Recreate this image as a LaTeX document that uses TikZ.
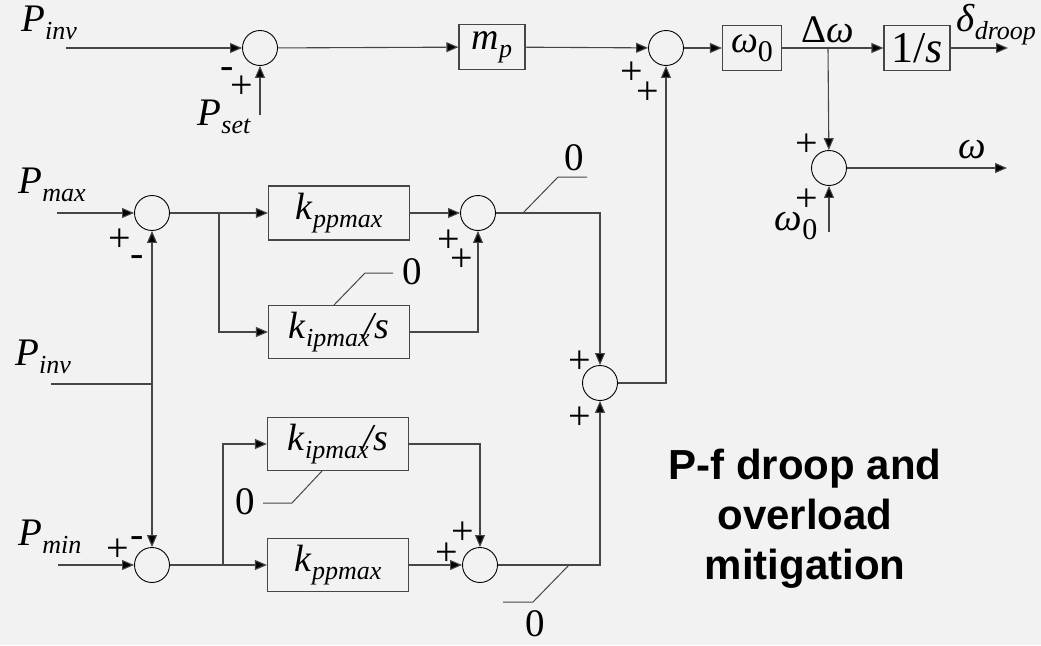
\documentclass[tikz,border=0pt]{standalone}
\usepackage{fontspec}
\setmainfont{Liberation Serif}
\newfontfamily\boldsans{Liberation Sans}
\usetikzlibrary{arrows.meta}
\newcommand{\sbi}[1]{\raisebox{-0.21em}{\fontsize{26}{26}\selectfont\itshape #1}}
\newcommand{\sbr}[1]{\raisebox{-0.24em}{\fontsize{30}{30}\selectfont #1}}
\definecolor{bgc}{RGB}{242,242,242}
\definecolor{lnc}{RGB}{70,70,70}
\tikzset{
  lbl/.style={font=\fontsize{39}{40}\selectfont, inner sep=0pt},
  sgn/.style={font=\fontsize{40}{40}\selectfont, inner sep=0pt},
  sumj/.style={circle, draw=black, line width=0.9pt, minimum size=35pt, inner sep=0pt},
  blk/.style={rectangle, draw=lnc, line width=1.1pt, inner sep=0pt, minimum height=45pt, font=\fontsize{38}{40}\selectfont},
  arr/.style={draw=lnc, line width=1.1pt, -{Triangle[length=12pt,width=10pt,fill=black]}},
  wire/.style={draw=lnc, line width=1.1pt},
  satl/.style={draw=lnc, line width=1pt}
}
\begin{document}
\begin{tikzpicture}[x=1pt,y=-1pt]
\fill[bgc] (0,0) rectangle (1041,645);
\useasboundingbox (0,0) rectangle (1041,645);

% junctions and blocks
\node[sumj] (s1) at (260,48) {};
\node[blk, minimum width=66pt] (mp) at (492,47) {\textit{m}\sbi{p}};
\node[sumj] (s2) at (666,48) {};
\node[blk, minimum width=59pt] (w0) at (752,48) {\textit{ω}\sbr{0}};
\node[blk, minimum width=66pt, font=\fontsize{44}{44}\selectfont] (ig) at (917,48) {1/\textit{s}};
\node[sumj] (s4) at (829,168) {};
\node[sumj] (s5) at (152,213) {};
\node[blk, minimum width=141pt, minimum height=54pt] (kpp1) at (339,213) {\textit{k}\sbi{ppmax}};
\node[blk, minimum width=141pt, minimum height=53pt] (kip1) at (339,332) {\textit{k}\sbi{ipmax}\kern-0.15em\textit{/s}};
\node[sumj] (s6) at (478,213) {};
\node[sumj] (s3) at (600,383) {};
\node[sumj] (s7) at (152,565) {};
\node[blk, minimum width=141pt, minimum height=53pt] (kip2) at (338,444) {\textit{k}\sbi{ipmax}\kern-0.15em\textit{/s}};
\node[blk, minimum width=141pt, minimum height=53pt] (kpp2) at (338,565) {\textit{k}\sbi{ppmax}};
\node[sumj] (s8) at (480,565) {};

% free ends
\coordinate (pinA) at (66,48);
\coordinate (psetA) at (260,115);
\coordinate (br1) at (828,48);
\coordinate (dout) at (1008,48);
\coordinate (wout) at (1007,168);
\coordinate (w0in) at (829,232);
\coordinate (pmaxA) at (57,213);
\coordinate (b5) at (219,213);
\coordinate (pinvB) at (51,384);
\coordinate (jv) at (152,384);
\coordinate (pminA) at (58,565);
\coordinate (b7) at (223,565);

% connectors
\draw[arr] (pinA) -- (s1);
\draw[arr] (psetA) -- (s1);
\draw[arr] (s1) -- (mp);
\draw[arr] (mp) -- (s2);
\draw[arr] (s2) -- (w0);
\draw[arr] (w0) -- (ig);
\draw[arr] (br1) -- (s4);
\draw[arr] (ig) -- (dout);
\draw[arr] (s4) -- (wout);
\draw[arr] (w0in) -- (s4);
\draw[arr] (s3) -| (s2);
\draw[arr] (pmaxA) -- (s5);
\draw[arr] (s5) -- (kpp1);
\draw[arr] (b5) |- (kip1);
\draw[arr] (kpp1) -- (s6);
\draw[arr] (kip1) -| (s6);
\draw[arr] (s6) -| (s3);
\draw[wire] (pinvB) -- (jv);
\draw[arr] (jv) -- (s5);
\draw[arr] (jv) -- (s7);
\draw[arr] (pminA) -- (s7);
\draw[arr] (s7) -- (kpp2);
\draw[arr] (b7) |- (kip2);
\draw[arr] (kip2) -| (s8);
\draw[arr] (kpp2) -- (s8);
\draw[arr] (s8) -| (s3);

% saturation limit marks
\draw[satl] (523,213) -- (558,177) -- (587,177);
\draw[satl] (334,305) -- (365,273) -- (393,273);
\draw[satl] (322,471) -- (292,503) -- (263,503);
\draw[satl] (569,565) -- (533,602) -- (503,602);
\node[lbl] (z1) at (574,158) {0};
\node[lbl] (z2) at (412,272) {0};
\node[lbl] (z3) at (245,502) {0};
\node[lbl] (z4) at (535,624) {0};

% signal labels
\node[lbl] (lpinv) at (49,23) {\textit{P}\sbi{inv}};
\node[lbl] (lpset) at (224,117) {\textit{P}\sbi{set}};
\node[lbl] (ldw) at (828,30) {Δ\textit{ω}};
\node[lbl] (ldel) at (996,25) {\textit{δ}\sbi{droop}};
\node[lbl] (lw) at (972,150) {\textit{ω}};
\node[lbl] (lw0) at (796,226) {\textit{ω}\sbr{0}};
\node[lbl] (lpmax) at (52,185) {\textit{P}\sbi{max}};
\node[lbl] (lpinv2) at (43,357) {\textit{P}\sbi{inv}};
\node[lbl] (lpmin) at (50,537) {\textit{P}\sbi{min}};

% signs
\node[sgn] (g1) at (227,73) {-};
\node[sgn] (g2) at (242,87) {+};
\node[sgn] (g3) at (632,73) {+};
\node[sgn] (g4) at (648,93) {+};
\node[sgn] (g5) at (807,145) {+};
\node[sgn] (g6) at (807,200) {+};
\node[sgn] (g7) at (120,240) {+};
\node[sgn] (g8) at (137,261) {-};
\node[sgn] (g9) at (449,241) {+};
\node[sgn] (g10) at (462,260) {+};
\node[sgn] (g11) at (580,362) {+};
\node[sgn] (g12) at (580,418) {+};
\node[sgn] (g13) at (118,550) {+};
\node[sgn] (g14) at (137,542) {-};
\node[sgn] (g15) at (463,533) {+};
\node[sgn] (g16) at (447,554) {+};

% caption
\node[font=\boldsans\bfseries\fontsize{42}{50}\selectfont, align=center, inner sep=0pt] (cap) at (805,519) {P-f droop and\\overload\\mitigation};
\end{tikzpicture}
\end{document}
